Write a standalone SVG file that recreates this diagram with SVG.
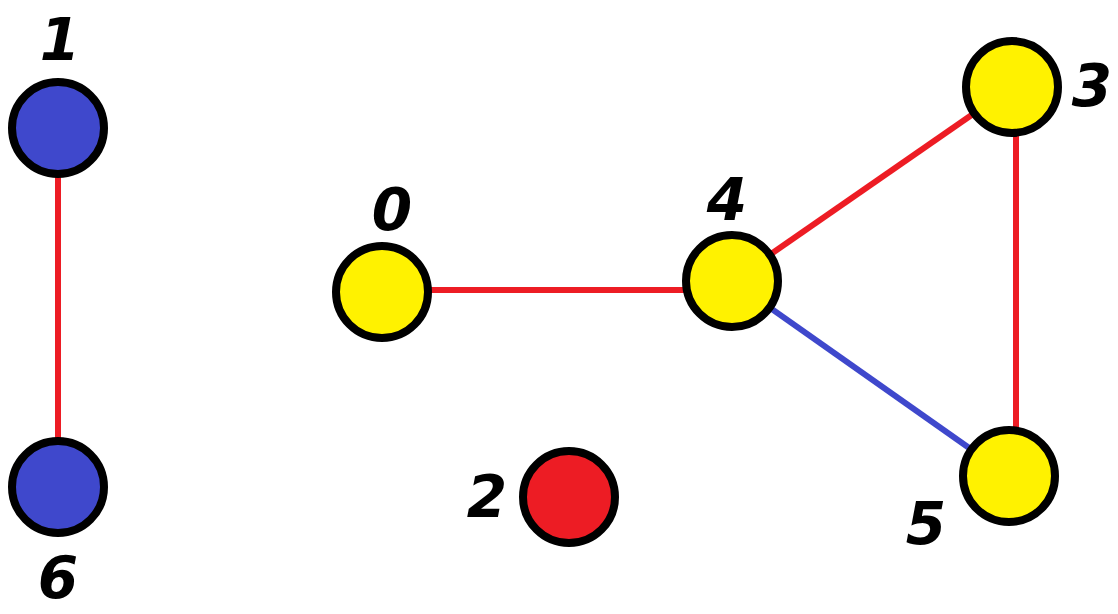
<svg xmlns="http://www.w3.org/2000/svg" width="1118" height="614" viewBox="0 0 1118 614">
<style>
.n{stroke:#000;stroke-width:8}
.y{fill:#fff200}.b{fill:#3f48cc}.r{fill:#ed1c24}
.e{stroke-width:6;fill:none}
.er{stroke:#ed1c24}.eb{stroke:#3f48cc}
.l{font-family:"DejaVu Sans",sans-serif;font-style:italic;font-weight:600;font-size:58px;fill:#000;text-anchor:middle}
</style>
<rect width="1118" height="614" fill="#fff"/>
<g id="edges">
<line class="e er" x1="58" y1="128" x2="58" y2="487"/>
<line class="e er" x1="382" y1="290" x2="732" y2="290"/>
<line class="e er" x1="732" y1="281" x2="1012" y2="87"/>
<line class="e er" x1="1016" y1="87" x2="1016" y2="476"/>
<line class="e eb" x1="732" y1="281" x2="1009" y2="476"/>
</g>
<g id="node1"><circle class="n b" cx="58" cy="128" r="46"/><text class="l" x="60" y="60">1</text></g>
<g id="node6"><circle class="n b" cx="58" cy="487" r="46"/><text class="l" x="58" y="598">6</text></g>
<g id="node0"><circle class="n y" cx="382" cy="292" r="46"/><text class="l" x="392" y="230">0</text></g>
<g id="node4"><circle class="n y" cx="732" cy="281" r="46"/><text class="l" x="727" y="220">4</text></g>
<g id="node3"><circle class="n y" cx="1012" cy="87" r="46"/><text class="l" x="1092" y="106">3</text></g>
<g id="node5"><circle class="n y" cx="1009" cy="476" r="46"/><text class="l" x="926" y="544">5</text></g>
<g id="node2"><circle class="n r" cx="569" cy="497" r="46"/><text class="l" x="487" y="517">2</text></g>
</svg>
